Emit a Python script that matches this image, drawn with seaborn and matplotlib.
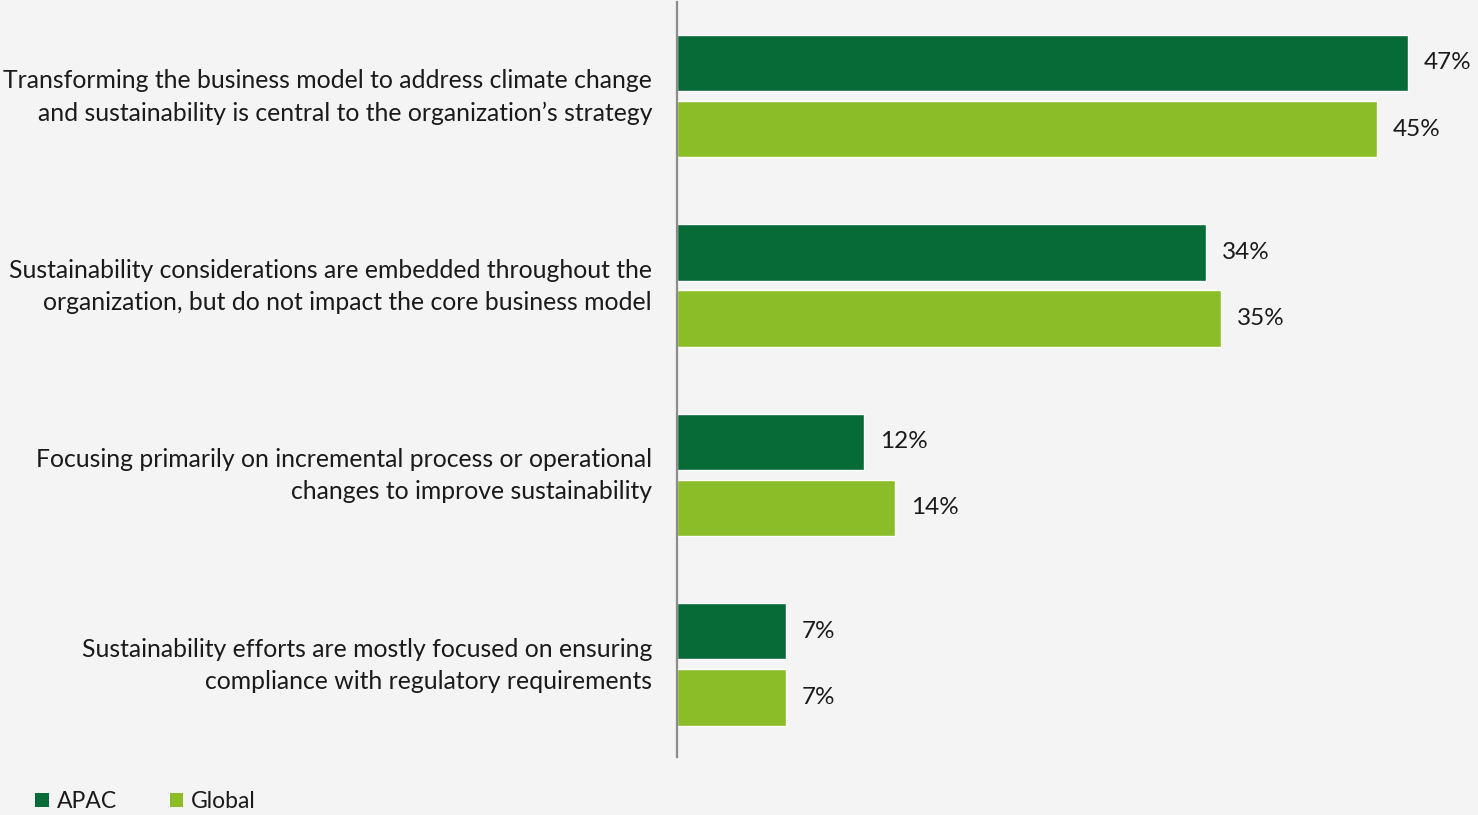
import matplotlib
matplotlib.use("Agg")
import matplotlib.pyplot as plt
import seaborn as sns
import pandas as pd
from matplotlib.patches import Patch
from matplotlib.transforms import ScaledTranslation

categories = [
    "Transforming the business model to address climate change\nand sustainability is central to the organization\u2019s strategy",
    "Sustainability considerations are embedded throughout the\norganization, but do not impact the core business model",
    "Focusing primarily on incremental process or operational\nchanges to improve sustainability",
    "Sustainability efforts are mostly focused on ensuring\ncompliance with regulatory requirements",
]
series_names = ["APAC", "Global"]
apac_values = [47, 34, 12, 7]
global_values = [45, 35, 14, 7]
colors = ["#076B38", "#8BBD28"]

rows = []
for c, a, g in zip(categories, apac_values, global_values):
    rows.append({"category": c, "region": "APAC", "value": a})
    rows.append({"category": c, "region": "Global", "value": g})
df = pd.DataFrame(rows)

sns.set_style("white")
plt.rcParams["font.family"] = ["Lato", "DejaVu Sans"]

bg = "#f4f4f4"
fig = plt.figure(figsize=(14.78, 8.15), dpi=100, facecolor=bg)
ax = fig.add_axes([677 / 1478, 58 / 815, 1 - 677 / 1478, 755 / 815])
ax.set_facecolor(bg)

sns.barplot(data=df, y="category", x="value", hue="region", orient="h",
            palette=colors, width=0.7, gap=0.15, ax=ax, legend=False,
            saturation=1, errorbar=None)

for cont in ax.containers:
    ax.bar_label(cont, labels=[f"{v:.0f}%" for v in cont.datavalues],
                 padding=11.5, fontsize=17.5, color="#1a1a1a")

ax.set_xlim(0, 51.5)
ax.set_ylim(3.49, -0.497)
ax.set_xlabel("")
ax.set_ylabel("")
ax.set_xticks([])
for s in ["top", "right", "bottom"]:
    ax.spines[s].set_visible(False)
ax.spines["left"].set_color("#8c8c8c")
ax.spines["left"].set_linewidth(1.6)
ax.tick_params(axis="y", length=0, pad=18, labelsize=17.8, labelcolor="#1a1a1a")
shift = ScaledTranslation(0, 4 / 72, fig.dpi_scale_trans)
for t in ax.get_yticklabels():
    t.set_horizontalalignment("right")
    t.set_multialignment("right")
    t.set_linespacing(1.48)
    t.set_transform(t.get_transform() + shift)

handles = [Patch(facecolor=c, edgecolor="none", label=n) for c, n in zip(colors, series_names)]
fig.legend(handles=handles, loc="lower left", bbox_to_anchor=(0.01, -0.022), ncol=2,
           frameon=False, fontsize=16.5, handlelength=0.58, handleheight=0.58,
           handletextpad=0.35, columnspacing=2.3, labelcolor="#1a1a1a")

fig.savefig("out.png", dpi=100, facecolor=bg)
